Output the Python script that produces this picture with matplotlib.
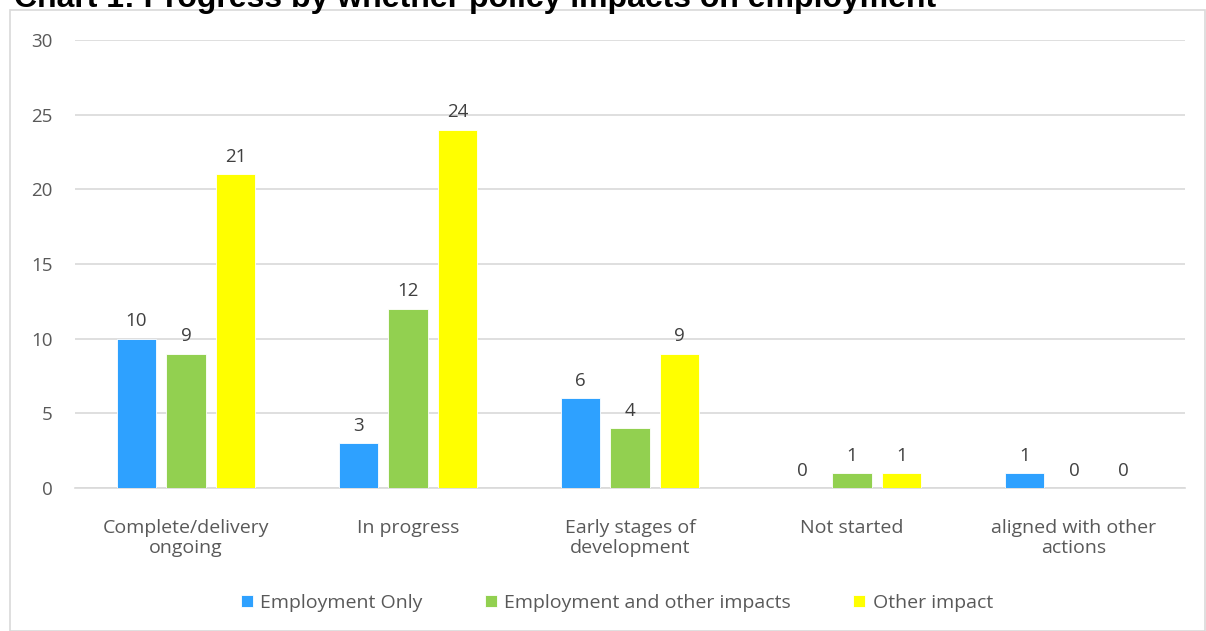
import numpy as np
from matplotlib import pyplot as plt
from matplotlib.patches import Rectangle

categories = ["Complete/delivery\nongoing", "In progress", "Early stages of\ndevelopment",
              "Not started", "aligned with other\nactions"]
series = ["Employment Only", "Employment and other impacts", "Other impact"]
employment_only = [10, 3, 6, 0, 1]
employment_other = [9, 12, 4, 1, 0]
other_impact = [21, 24, 9, 1, 0]
colors = ["#2EA1FF", "#92D050", "#FFFF00"]

plt.rcParams['font.family'] = ['Open Sans', 'DejaVu Sans']

fig = plt.figure(figsize=(12.06, 6.31), dpi=100)
fig.patches.append(Rectangle((10/1206, 0.0), 1195/1206, 1 - 10/631, transform=fig.transFigure,
                             fill=False, edgecolor="#d9d9d9", linewidth=1.2))
fig.text(14/1206, 1 - 7/631, "Chart 1: Progress by whether policy impacts on employment",
         fontsize=23, fontweight='bold', family='Liberation Sans', va='baseline', ha='left')

ax = fig.add_axes([75/1206, 1 - 488/631, 1110/1206, 448/631])
x = np.arange(len(categories))
width = 0.176
step = 0.223
for i, (vals, name) in enumerate(zip([employment_only, employment_other, other_impact], series)):
    bars = ax.bar(x + (i - 1) * step, vals, width, color=colors[i], label=name,
                  edgecolor='white', linewidth=0.6, zorder=3)
    for b, v in zip(bars, vals):
        ax.annotate(str(v), (b.get_x() + b.get_width() / 2, v), xytext=(0, 6),
                    textcoords='offset points', ha='center', va='bottom',
                    fontsize=13.5, color='#404040')

ax.set_xlim(-0.5, len(categories) - 0.5)
ax.set_ylim(0, 30)
ax.set_yticks(range(0, 31, 5))
ax.set_xticks(x)
ax.set_xticklabels(categories, fontsize=14, color='#595959', linespacing=1.2)
ax.tick_params(axis='x', length=0, pad=22)
ax.tick_params(axis='y', length=0, pad=16, labelsize=13.5, labelcolor='#595959')
ax.grid(axis='y', color='#d9d9d9', linewidth=1.2, zorder=0)
for s in ['top', 'right', 'left']:
    ax.spines[s].set_visible(False)
ax.spines['bottom'].set_color('#d9d9d9')
ax.spines['bottom'].set_linewidth(1.2)

fig.legend(loc='center', bbox_to_anchor=(617/1206, 1 - 603/631), ncol=3, frameon=False,
           fontsize=14, labelcolor='#595959', handlelength=0.6, handleheight=0.6,
           columnspacing=3.2, handletextpad=0.4)

plt.savefig("out.png", dpi=100)
